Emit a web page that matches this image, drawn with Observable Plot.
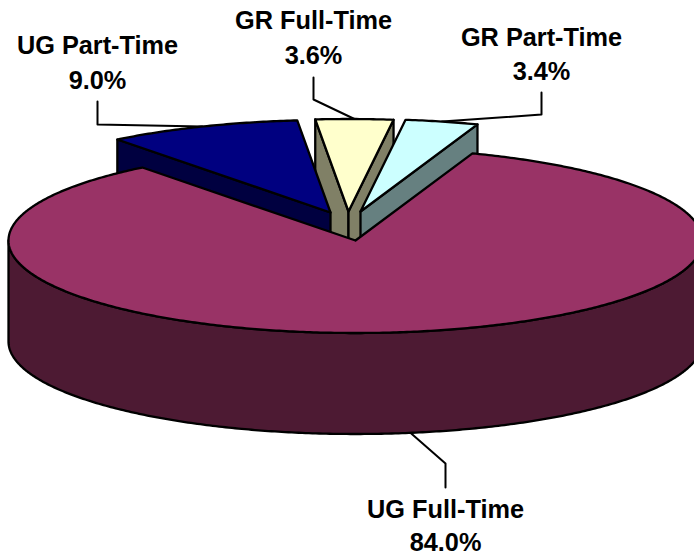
<!DOCTYPE html>
<html>
<head>
<meta charset="utf-8">
<style>html,body{margin:0;padding:0;background:#fff;overflow:hidden}svg{display:block}</style>
<script src="https://cdn.jsdelivr.net/npm/d3@7"></script>
<script src="https://cdn.jsdelivr.net/npm/@observablehq/plot@0.6"></script>
</head>
<body>
<div id="chart"></div>
<script>
// Data
const categories = ["UG Full-Time", "UG Part-Time", "GR Full-Time", "GR Part-Time"];
const shares = [84.0, 9.0, 3.6, 3.4];

// Styling
const topColors = ["#993366", "#000080", "#FFFFCC", "#CCFFFF"];
const wallColors = ["#4D1A33", "#000040", "#808066", "#668080"];

// Layout, in pixels of the 694x555 frame, converted to pie units below
const W = 694, H = 555;
const cx = 355, cy = 240, rx = 347, ry = 92.5, depthPx = 101;
const startDeg = 19.7;
const apexPx = [[355, 240], [330, 212], [348, 211], [360, 211]];
const labelPx = [
  {x: 445, name: 509, pct: 542, elbow: 463, end: 487},
  {x: 97, name: 45, pct: 80, elbow: 124, end: 101},
  {x: 313, name: 20, pct: 55, elbow: 99, end: 77},
  {x: 541, name: 37, pct: 71, elbow: 114, end: 92}
];

const ux = (px) => (px - cx) / rx;
const uy = (py) => (cy - py) / ry;
const depth = depthPx / ry;

const arcs = d3.pie().sort(null)
  .startAngle(startDeg * Math.PI / 180)
  .endAngle(startDeg * Math.PI / 180 + 2 * Math.PI)(shares);

const slices = categories.map((name, i) => ({
  name,
  share: shares[i],
  a0: arcs[i].startAngle,
  a1: arcs[i].endAngle,
  ox: ux(apexPx[i][0]),
  oy: uy(apexPx[i][1]),
  top: topColors[i],
  wall: wallColors[i],
  label: labelPx[i]
}));

const rimPoint = (s, a, drop = 0) => ({x: s.ox + Math.sin(a), y: s.oy + Math.cos(a) - drop});
const apexPoint = (s, drop = 0) => ({x: s.ox, y: s.oy - drop});
const rim = (s, a0, a1, drop = 0) => {
  const n = Math.max(2, Math.ceil(Math.abs(a1 - a0) / 0.01));
  return d3.range(n + 1).map((k) => rimPoint(s, a0 + (a1 - a0) * k / n, drop));
};
const close = (pts) => [...pts, pts[0]];
const polygon = (pts, fill) =>
  Plot.line(close(pts), {x: "x", y: "y", fill, stroke: "#000", strokeWidth: 2.3, strokeLinejoin: "round"});

const topFace = (s) => polygon([apexPoint(s), ...rim(s, s.a0, s.a1)], s.top);
const edgeWall = (s, a) => polygon(
  [apexPoint(s), rimPoint(s, a), rimPoint(s, a, depth), apexPoint(s, depth)], s.wall);
const frontWall = (s) => polygon(
  [...rim(s, Math.PI / 2, 3 * Math.PI / 2), ...rim(s, 3 * Math.PI / 2, Math.PI / 2, depth)], s.wall);

const [ugFull, ugPart, grFull, grPart] = slices;

const leader = (s, drop = 0) => {
  const mid = (s.a0 + s.a1) / 2;
  return [
    rimPoint(s, mid, drop),
    {x: ux(s.label.x), y: uy(s.label.elbow)},
    {x: ux(s.label.x), y: uy(s.label.end)}
  ];
};
const leaderMark = (pts) => Plot.line(pts, {x: "x", y: "y", stroke: "#000", strokeWidth: 2});

const textStyle = {
  text: "t", x: "x", y: "y", textAnchor: "middle", lineAnchor: "middle",
  fontFamily: "'Liberation Sans', Arial, sans-serif", fontWeight: "bold", fontSize: 25.3, fill: "#000"
};
const names = slices.map((s) => ({t: s.name, x: ux(s.label.x), y: uy(s.label.name)}));
const pcts = slices.map((s) => ({t: d3.format(".1f")(s.share) + "%", x: ux(s.label.x), y: uy(s.label.pct)}));

const chart = Plot.plot({
  width: W,
  height: H,
  margin: 0,
  style: {background: "#fff"},
  x: {type: "linear", domain: [ux(0), ux(W)], range: [0, W], axis: null},
  y: {type: "linear", domain: [uy(0), uy(H)], range: [0, H], axis: null},
  marks: [
    leaderMark(leader(ugPart)),
    leaderMark(leader(grFull)),
    leaderMark(leader(grPart)),
    leaderMark(leader(ugFull, depth)),
    edgeWall(grFull, grFull.a0),
    edgeWall(grFull, grFull.a1),
    topFace(grFull),
    edgeWall(grPart, grPart.a1),
    topFace(grPart),
    edgeWall(ugPart, ugPart.a0),
    topFace(ugPart),
    frontWall(ugFull),
    topFace(ugFull),
    Plot.text(names, textStyle),
    Plot.text(pcts, textStyle)
  ]
});
document.getElementById("chart").append(chart);
</script>
</body>
</html>
